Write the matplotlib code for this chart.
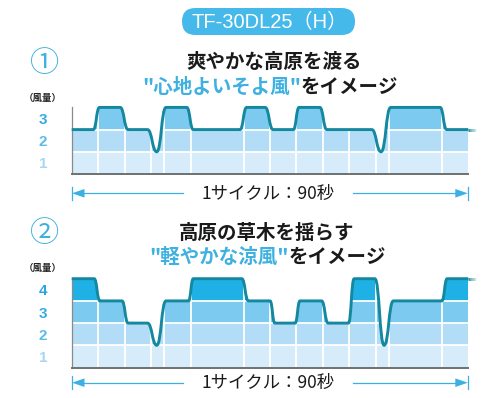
import matplotlib
matplotlib.use("Agg")
import matplotlib.pyplot as plt
from matplotlib.path import Path
from matplotlib.patches import PathPatch, Rectangle, FancyBboxPatch, Polygon

# Wind pattern nodes: time (s) and level (風量)
times1 = [0, 4.9, 6.3, 11.0, 12.8, 17.2, 19.3, 21.4, 26.1, 27.6, 38.2, 39.7,
          43.9, 45.7, 50.3, 51.6, 56.3, 57.9, 68.1, 70.2, 72.4, 83.6, 85.1, 90]
levels1 = [2, 2, 3, 3, 2, 2, 1, 3, 3, 2, 2, 3,
           3, 2, 2, 3, 3, 2, 2, 1, 3, 3, 2, 2]

times2 = [0, 5.1, 6.4, 11.4, 12.8, 17.2, 19.3, 21.4, 26.5, 27.6, 38.6, 40.1, 45.0,
          46.1, 50.7, 51.8, 56.7, 58.2, 62.8, 64.1, 68.8, 70.9, 73.0, 84.0, 85.2, 90]
levels2 = [4, 4, 3, 3, 2, 2, 1, 3, 3, 4, 4, 3, 3,
           2, 2, 3, 3, 2, 2, 4, 4, 1, 3, 3, 4, 4]

grid_seconds = [6, 12, 18, 21, 27, 39, 45, 51, 57, 63, 69, 72, 84]
cycle_seconds = 90

ticks1 = ["1", "2", "3"]
ticks2 = ["1", "2", "3", "4"]

model = "TF-30DL25（H）"
title1 = "爽やかな高原を渡る"
sub1_blue = "\"心地よいそよ風\""
sub2_black = "をイメージ"
title2 = "高原の草木を揺らす"
sub2_blue = "\"軽やかな涼風\""
cycle_label = "1サイクル：90秒"
unit_label = "（風量）"

# colours
band_colors = ["#d6ecfb", "#b3ddf6", "#7ccaf0", "#1fb1e6"]
tick_colors = ["#a9d7f1", "#5dbbe8", "#34abe0", "#29a6df"]
line_color = "#13889f"
accent = "#3fb1e0"
arrow_color = "#3cb0e2"

JP = ["Noto Sans CJK JP", "DejaVu Sans"]
W, H = 500, 398
UNIT = 22.2  # px per level

fig = plt.figure(figsize=(W / 100, H / 100), dpi=100)

# overlay in pixel coordinates for the annotations
ov = fig.add_axes([0, 0, 1, 1])
ov.set_xlim(0, W)
ov.set_ylim(H, 0)
ov.axis("off")


def wind_path(t, lv):
    verts = [(t[0], lv[0])]
    codes = [Path.MOVETO]
    for i in range(1, len(t)):
        t0, l0, t1, l1 = t[i - 1], lv[i - 1], t[i], lv[i]
        if l0 == l1:
            verts.append((t1, l1))
            codes.append(Path.LINETO)
        else:
            m = (t0 + t1) / 2
            verts += [(m, l0), (m, l1), (t1, l1)]
            codes += [Path.CURVE4] * 3
    return verts, codes


def draw_chart(bottom_px, t, lv, ticks):
    top = len(ticks)
    left_px, right_px = 71.7, 468.3
    h_px = (top + 0.5) * UNIT
    ax = fig.add_axes([left_px / W, 1 - bottom_px / H,
                       (right_px - left_px) / W, h_px / H])
    ax.set_facecolor("none")
    ax.set_xlim(0, cycle_seconds)
    ax.set_ylim(0, top + 0.5)

    verts, codes = wind_path(t, lv)
    fill_path = Path(verts + [(t[-1], 0), (t[0], 0), (t[0], lv[0])],
                     codes + [Path.LINETO, Path.LINETO, Path.CLOSEPOLY])
    clip = PathPatch(fill_path, facecolor="none", edgecolor="none")
    ax.add_patch(clip)

    for k in range(top):
        r = Rectangle((0, k), cycle_seconds, 1, facecolor=band_colors[k],
                      edgecolor="none", zorder=1)
        ax.add_patch(r)
        r.set_clip_path(clip)

    vl = ax.vlines(grid_seconds, 0, top, colors="white", lw=1.3, zorder=2)
    vl.set_clip_path(clip)
    hl = ax.hlines(range(1, top), 0, cycle_seconds, colors="white", lw=1.3, zorder=2)
    hl.set_clip_path(clip)

    ax.add_patch(PathPatch(Path(verts, codes), fill=False, edgecolor=line_color,
                           lw=2.1, zorder=4, clip_on=False, joinstyle="round"))
    # faded tail past the end of the cycle
    n = 6
    for j in range(n):
        ax.plot([t[-1] + j * 0.3, t[-1] + (j + 1) * 0.3], [lv[-1], lv[-1]],
                color=line_color, lw=2.1, alpha=1 - (j + 1) / (n + 1),
                solid_capstyle="butt", clip_on=False, zorder=4)

    for s in ["top", "right"]:
        ax.spines[s].set_visible(False)
    ax.spines["left"].set_color("#8a8a8a")
    ax.spines["left"].set_linewidth(0.9)
    ax.spines["left"].set_bounds(0, top)
    ax.spines["bottom"].set_color("#707070")
    ax.spines["bottom"].set_linewidth(1.4)

    ax.set_xticks([])
    ax.set_yticks([k + 0.5 for k in range(top)])
    ax.set_yticklabels(ticks, fontsize=11, fontweight="bold",
                       family=["Liberation Sans", "DejaVu Sans"])
    ax.tick_params(axis="y", length=0, pad=20.5)
    for k, lab in enumerate(ax.get_yticklabels()):
        lab.set_color(tick_colors[k])
        lab.set_horizontalalignment("center")
    return ax


def cycle_arrow(y, x0, x1, gap0, gap1):
    kw = dict(color=arrow_color, lw=0.9)
    ov.plot([x0, x0], [y - 6.5, y + 6.5], **kw)
    ov.plot([x1, x1], [y - 6.5, y + 6.5], **kw)
    ov.plot([x0 + 12, gap0], [y, y], **kw)
    ov.plot([gap1, x1 - 12], [y, y], **kw)
    ov.add_patch(Polygon([(x0 + 0.5, y), (x0 + 13, y - 4.3), (x0 + 13, y + 4.3)],
                         closed=True, color=arrow_color, lw=0))
    ov.add_patch(Polygon([(x1 - 0.5, y), (x1 - 13, y - 4.3), (x1 - 13, y + 4.3)],
                         closed=True, color=arrow_color, lw=0))
    ov.text((gap0 + gap1) / 2, y + 0.5, cycle_label, ha="center", va="center",
            fontsize=12.5, family=JP, color="#1a1a1a")


# model badge
ov.add_patch(FancyBboxPatch((182, 8), 173, 27,
                            boxstyle="round,pad=0,rounding_size=13.5",
                            facecolor="#45b9e9", edgecolor="none"))
ov.text(269.5, 22, model, ha="center", va="center", fontsize=14.5,
        color="white", family=["Liberation Sans", "Noto Sans CJK JP"])

# chart 1 headings
ov.text(45, 64, "①", ha="center", va="center", fontsize=21, color=accent, family=JP)
ov.text(274.5, 62, title1, ha="center", va="center", fontsize=14,
        fontweight="bold", family=JP, color="#1a1a1a")
ov.text(301, 87, sub1_blue, ha="right", va="center", fontsize=14,
        fontweight="bold", family=JP, color=accent)
ov.text(301, 87, sub2_black, ha="left", va="center", fontsize=14,
        fontweight="bold", family=JP, color="#1a1a1a")
ov.text(43, 98, unit_label, ha="center", va="center", fontsize=6.8,
        fontweight="bold", family=JP, color="#222222")

draw_chart(174, times1, levels1, ticks1)
cycle_arrow(193.3, 71.5, 468.3, 183, 353)

# chart 2 headings
ov.text(45, 234, "②", ha="center", va="center", fontsize=21, color=accent, family=JP)
ov.text(267, 233, title2, ha="center", va="center", fontsize=14,
        fontweight="bold", family=JP, color="#1a1a1a")
ov.text(289, 257, sub2_blue, ha="right", va="center", fontsize=14,
        fontweight="bold", family=JP, color=accent)
ov.text(289, 257, sub2_black, ha="left", va="center", fontsize=14,
        fontweight="bold", family=JP, color="#1a1a1a")
ov.text(43, 268, unit_label, ha="center", va="center", fontsize=6.8,
        fontweight="bold", family=JP, color="#222222")

draw_chart(367.5, times2, levels2, ticks2)
cycle_arrow(382.7, 71.5, 468.3, 183, 353)

fig.savefig("out.png", dpi=100)
